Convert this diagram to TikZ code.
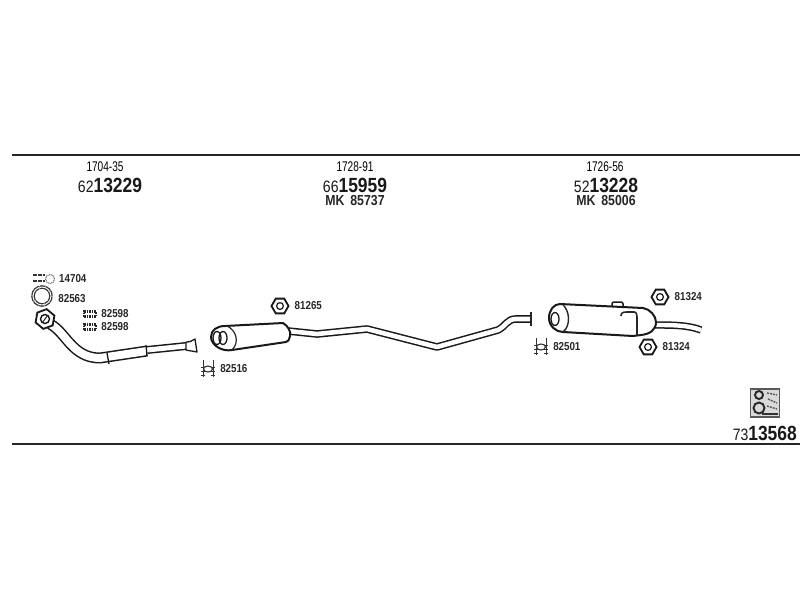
\documentclass[tikz,border=0pt]{standalone}
\usepackage{fontspec}
\setmainfont[FakeStretch=0.72]{Liberation Sans}
\newfontfamily\numfont[FakeStretch=0.85]{Liberation Sans}
\usetikzlibrary{positioning,shapes.geometric}
\tikzset{
    rule/.style={line width=1.9pt,black!85},
    pipe/.style={draw=black!90,line width=1.5pt,double=white,double distance=4.6pt,line join=round},
    can/.style={draw=black!90,line width=2pt,fill=white,line join=round},
    gasket/.style={draw=black!90,line width=1.8pt,regular polygon,regular polygon sides=6,minimum size=17pt,inner sep=0pt},
    tailend/.style={draw=black!90,ellipse,line width=1.3pt,minimum width=8pt,minimum height=13pt,inner sep=0pt},
    partno/.style={font=\numfont\bfseries\fontsize{11.5}{11}\selectfont,text=black!85,inner sep=0pt},
    mknum/.style={font=\numfont\bfseries\fontsize{14.5}{14}\selectfont,text=black!85,inner sep=0pt},
    refnum/.style={font=\fontsize{14}{14}\selectfont,text=black,inner sep=0pt},
    bignum/.style={text=black!90,inner sep=0pt}
}
\newcommand{\artno}[2]{{\numfont\fontsize{16.5}{17}\selectfont #1}{\numfont\bfseries\fontsize{20.5}{18}\selectfont #2}}
\begin{document}
\begin{tikzpicture}[x=1pt,y=-1pt]
    \useasboundingbox (0,0) rectangle (800,600);
    \fill[white] (0,0) rectangle (800,600);

    % rules
    \coordinate (ruleAl) at (12,155);
    \coordinate (ruleAr) at (800,155);
    \coordinate (ruleBl) at (12,444);
    \coordinate (ruleBr) at (800,444);
    \draw[rule] (ruleAl) -- (ruleAr);
    \draw[rule] (ruleBl) -- (ruleBr);

    % headings
    \node[refnum] (refa) at (105,167) {1704-35};
    \node[refnum] (refb) at (355,167) {1728-91};
    \node[refnum] (refc) at (605,167) {1726-56};
    \node[bignum] (arta) at (110,185) {\artno{62}{13229}};
    \node[bignum] (artb) at (355,185) {\artno{66}{15959}};
    \node[bignum] (artc) at (606,185) {\artno{52}{13228}};
    \node[mknum] (mkb) at (355,201) {MK\, 85737};
    \node[mknum] (mkc) at (606,201) {MK\, 85006};
    \node[bignum,anchor=east] (artd) at (797,433) {\artno{73}{13568}};

    % front pipe
    \draw[pipe,double distance=5pt] (147,350) -- (186,346);
    \draw[pipe,double distance=8pt] (50,324) .. controls (66,332) and (72,358) .. (100,358) -- (147,351);
    \draw[can,line width=1.3pt] (107,353) -- (109,364);
    \draw[can,line width=1.3pt] (146,345) -- (147,356);
    \draw[can,line width=1.3pt] (186,342) .. controls (190,342) and (192,341) .. (195,339)
        -- (197,352) .. controls (193,351) and (190,351) .. (186,350) -- cycle;
    \node[gasket,rotate=20,fill=white,minimum size=20pt] (flange) at (45,319) {};
    \draw[line width=1.4pt,black!90] (flange) circle (4.5pt);
    \draw[line width=1pt,black!85] (42,323) -- (48,315);

    % front ring and bolt
    \node[draw=black!80,circle,line width=1.3pt,minimum size=18pt,inner sep=0pt,double=white,double distance=1pt,dash pattern=on 5pt off .6pt] (ring) at (42,296) {};
    \coordinate (bolta) at (33,275);
    \coordinate (boltb) at (45,275);
    \draw[line width=1.1pt,black!80,dash pattern=on 4pt off 1pt] (bolta) -- (boltb);
    \draw[line width=1.1pt,black!80,dash pattern=on 4pt off 1pt] (33,281) -- (45,281);
    \node[draw=black!60,circle,line width=1pt,minimum size=9pt,inner sep=0pt,dash pattern=on 1pt off .7pt] (washer) at (50,279) {};
    \node[partno,right=4pt of washer] (n14704) {14704};
    \node[partno] (n82563) at (72,299) {82563};

    % small clips
    \foreach \n/\y in {a/314,b/327}
    {
        \node[draw=black!85,line width=2.4pt,dash pattern=on 1.5pt off 1pt,minimum width=12pt,minimum height=5pt,inner sep=0pt] (clip\n) at (90,\y) {};
        \node[partno,right=4pt of clip\n] (n82598\n) {82598};
    }

    % middle silencer and pipe
    \draw[pipe] (288,331) -- (317,334) -- (367,329) -- (437,347) -- (498,330)
        .. controls (506,326) and (507,319) .. (516,319) -- (530,319);
    \draw[can] (225,326) -- (283,323) .. controls (288,326) and (291,331) .. (290,336)
        .. controls (289,340) and (288,342) .. (286,342) -- (232,350)
        .. controls (222,352) and (211,345) .. (211,337)
        .. controls (211,330) and (217,326) .. (225,326) -- cycle;
    \draw[black!85,line width=1.2pt] (227,326) .. controls (236,330) and (240,342) .. (232,350);
    \node[tailend] (tailm) at (217,338) {};
    \node[tailend] (tailn) at (223,338) {};
    \draw[line width=2pt,black!85] (531,312) -- (531,326);

    % rear silencer
    \draw[pipe,double distance=4.4pt] (654,325) .. controls (672,325) and (688,325) .. (701,330);
    \draw[can,line width=1.5pt,rounded corners=2pt] (612,306) -- (612,302) -- (623,302) -- (623,307);
    \draw[can] (560,304) -- (643,308) .. controls (650,309) and (656,316) .. (656,322)
        .. controls (656,330) and (650,334) .. (641,335) -- (633,336) -- (563,332)
        .. controls (556,332) and (549,326) .. (549,318)
        .. controls (549,310) and (554,304) .. (560,304) -- cycle;
    \draw[black!85,line width=1.4pt] (562,304) .. controls (570,310) and (571,326) .. (563,332);
    \draw[black!85,line width=1.6pt] (621,316) .. controls (621,312) and (624,312) .. (628,312)
        -- (634,312) .. controls (637,312) and (637,315) .. (637,320) -- (637,335);
    \node[tailend] (tailr) at (555,319) {};

    % gaskets with numbers
    \foreach \g/\px/\py/\lab in {ga/280/306/81265,gb/660/297/81324,gc/648/347/81324}
    {
        \node[gasket] (\g) at (\px,\py) {};
        \draw[line width=1.2pt,black!90] (\g) circle (3.4pt);
        \node[partno,right=5pt of \g] (n\g) {\lab};
    }

    % hangers with numbers
    \foreach \h/\px/\py/\lab in {ha/208/369/82516,hb/541/347/82501}
    {
        \node[draw=black!80,ellipse,line width=1.1pt,minimum width=9pt,minimum height=6pt,inner sep=0pt] (\h) at (\px,\py) {};
        \foreach \s in {-5,5}
        {
            \draw[line width=1pt,black!80] (\h) ++(\s,-9) -- ++(0,17);
            \draw[line width=1pt,black!80] (\h) ++(\s-2,-2) -- ++(4,0) ++(-4,4) -- ++(4,0);
            \draw[line width=1pt,black!80] (\h) ++(\s-2,6) -- ++(4,0);
        }
        \node[partno,right=7pt of \h] (n\h) {\lab};
    }

    % kit symbol
    \node[draw=black!65,fill=black!15,line width=1.1pt,minimum width=29pt,minimum height=28pt,inner sep=0pt] (kit) at (765,403) {};
    \draw[line width=1.9pt,black!85] (759,395) circle (4pt);
    \draw[line width=1.9pt,black!85] (759,408) circle (5.5pt);
    \draw[line width=1.4pt,black!65,dash pattern=on 2pt off 1pt] (767,393) -- (777,395) (768,399) -- (777,403) (767,406) -- (777,409);
    \draw[line width=1.2pt,black!80] (762,414) -- (778,414);
\end{tikzpicture}
\end{document}
